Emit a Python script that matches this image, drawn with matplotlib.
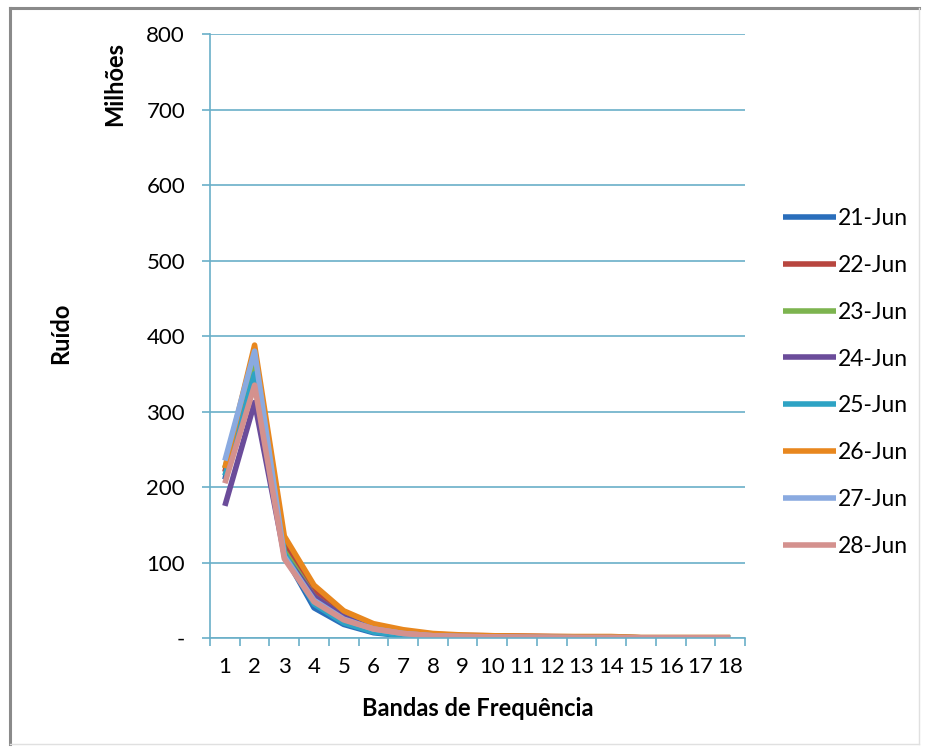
import matplotlib
matplotlib.use("Agg")
import matplotlib.pyplot as plt
from matplotlib.lines import Line2D
from matplotlib.ticker import FuncFormatter, MultipleLocator

# Ruído por banda de frequência (em milhões), um dia por série
bandas = list(range(1, 19))
dias = ['21-Jun', '22-Jun', '23-Jun', '24-Jun', '25-Jun', '26-Jun', '27-Jun', '28-Jun']

jun21 = [210, 375, 110, 40, 18, 7, 3, 1, 0.5, 0.3, 0.2, 0.2, 0.1, 0.1, 0.1, 0.1, 0.1, 0.1]
jun22 = [220, 380, 125, 62, 32, 16, 9, 5, 3.5, 3, 2.5, 2, 1.5, 1.5, 0.5, 0.5, 0.5, 0.5]
jun23 = [225, 360, 115, 55, 28, 14, 7, 4, 2.5, 2, 1.5, 1.2, 1, 1, 0.4, 0.4, 0.4, 0.4]
jun24 = [175, 312, 110, 55, 28, 12, 6, 3, 2, 1.5, 1, 0.8, 0.6, 0.6, 0.3, 0.3, 0.3, 0.3]
jun25 = [215, 350, 112, 45, 20, 8, 3, 1, 0.5, 0.3, 0.2, 0.2, 0.1, 0.1, 0.1, 0.1, 0.1, 0.1]
jun26 = [225, 388, 135, 70, 36, 19, 11, 6, 4, 3, 2.5, 2, 2, 2, 0.6, 0.6, 0.6, 0.6]
jun27 = [235, 380, 108, 50, 25, 12, 6, 3, 2, 1.5, 1, 0.8, 0.6, 0.6, 0.3, 0.3, 0.3, 0.3]
jun28 = [205, 335, 105, 48, 24, 12, 6, 3, 2, 1.5, 1, 0.8, 0.6, 0.6, 0.3, 0.3, 0.3, 0.3]
series = [jun21, jun22, jun23, jun24, jun25, jun26, jun27, jun28]

cores = ['#2A6EBB', '#B8463F', '#7DB44F', '#6B4C9A', '#2EA3C4', '#E8871E', '#8AAAE0', '#D4918E']
grade = '#6AAFC8'

plt.rcParams['font.family'] = ['Lato', 'DejaVu Sans']

fig = plt.figure(figsize=(9.26, 7.53), dpi=100)
ax = fig.add_axes([0.2268, 0.1527, 0.5777, 0.8021])

for dia, valores, cor in zip(dias, series, cores):
    ax.plot(bandas, valores, color=cor, linewidth=4, label=dia, solid_capstyle='butt')

ax.set_xlim(0.5, 18.5)
ax.set_ylim(0, 800)
ax.yaxis.set_major_locator(MultipleLocator(100))
ax.yaxis.set_major_formatter(FuncFormatter(lambda v, p: '-' if v == 0 else f'{v:.0f}'))
ax.set_xticks(bandas)
ax.set_xticks([b + 0.5 for b in [0] + bandas], minor=True)
ax.tick_params(axis='x', which='major', length=0, labelsize=16, pad=14)
ax.tick_params(axis='x', which='minor', length=6, width=1.2, color=grade, direction='out')
ax.tick_params(axis='y', length=6, width=1.2, color=grade, labelsize=16, pad=12)
ax.grid(axis='y', color=grade, linewidth=1.2)
ax.set_axisbelow(True)

for lado in ['top', 'right']:
    ax.spines[lado].set_visible(False)
for lado in ['left', 'bottom']:
    ax.spines[lado].set_color(grade)
    ax.spines[lado].set_linewidth(1.2)

ax.set_xlabel('Bandas de Frequência', fontsize=17, fontweight='bold', labelpad=14)
fig.text(0.065, 0.558, 'Ruído', rotation=90, fontsize=17, fontweight='bold', ha='center', va='center')
fig.text(0.124, 0.888, 'Milhões', rotation=90, fontsize=17, fontweight='bold', ha='center', va='center')

ax.legend(loc='upper left', bbox_to_anchor=(0.8456, 0.724), bbox_transform=fig.transFigure,
          frameon=False, fontsize=16.5, handlelength=2.3, handletextpad=0.1,
          labelspacing=1.13, borderpad=0, borderaxespad=0)

# moldura do gráfico
fig.add_artist(Line2D([0.011, 0.011], [0.012, 0.989], color='#8A8A8A', linewidth=2.2, transform=fig.transFigure))
fig.add_artist(Line2D([0.011, 0.992], [0.989, 0.989], color='#8A8A8A', linewidth=2.2, transform=fig.transFigure))
fig.add_artist(Line2D([0.992, 0.992], [0.012, 0.989], color='#E0E0E0', linewidth=1.0, transform=fig.transFigure))
fig.add_artist(Line2D([0.011, 0.992], [0.012, 0.012], color='#E0E0E0', linewidth=1.0, transform=fig.transFigure))

fig.savefig('out.png', dpi=100)
